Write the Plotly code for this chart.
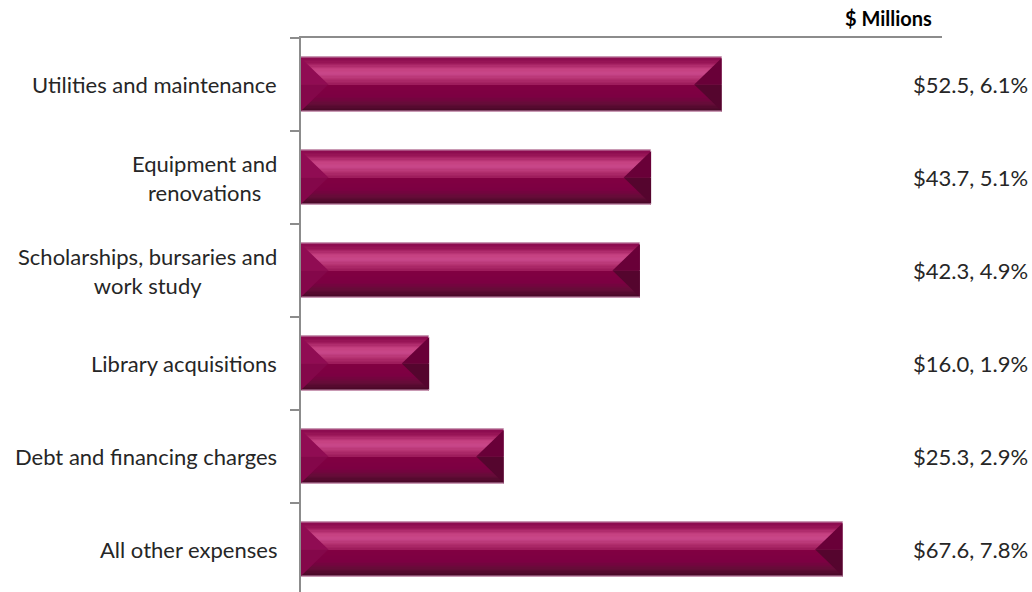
import plotly.graph_objects as go

# ---- data ----
categories = ["Utilities and maintenance", "Equipment and<br>renovations",
              "Scholarships, bursaries and<br>work study", "Library acquisitions",
              "Debt and financing charges", "All other expenses"]
values = [52.5, 43.7, 42.3, 16.0, 25.3, 67.6]
percents = [6.1, 5.1, 4.9, 1.9, 2.9, 7.8]
value_header = "$ Millions"

# ---- style ----
W, H = 1032, 592
ML, MR, MT, MB = 301, 90, 38, 0
XMAX = 80
Y_TOP, Y_BOT = -0.5, 5.457
BAR_H = 0.59
FONT = "Lato, Carlito, Calibri, sans-serif"
TEXT_COL = "#262626"
AXIS_COL = "#8c8c8c"

px_per_x = (W - ML - MR) / XMAX
px_per_y = (H - MT - MB) / (Y_BOT - Y_TOP)
bevel = (BAR_H / 2) * px_per_y / px_per_x

pos = list(range(len(categories)))

# vertical shading stops of the bevelled bar (0 = top edge, 1 = bottom edge)
stops = [
    (0.00, "#c890b0"), (0.025, "#8a0a4e"), (0.10, "#9a1658"),
    (0.22, "#c54080"), (0.30, "#c8478a"), (0.40, "#b3306f"),
    (0.495, "#9c1a5a"), (0.50, "#820042"), (0.72, "#7c0042"),
    (0.85, "#650c38"), (0.965, "#4a0828"), (1.00, "#a87090"),
]


def hex2rgb(h):
    h = h.lstrip("#")
    return [int(h[i:i + 2], 16) for i in (0, 2, 4)]


def color_at(f):
    for (a, ca), (b, cb) in zip(stops[:-1], stops[1:]):
        if a <= f <= b:
            t = 0 if b == a else (f - a) / (b - a)
            c1, c2 = hex2rgb(ca), hex2rgb(cb)
            return "rgb({},{},{})".format(*[round(x + (y - x) * t) for x, y in zip(c1, c2)])
    return stops[-1][1]


N_STRIPES = 40
fig = go.Figure()
for k in range(N_STRIPES):
    f0 = k / N_STRIPES
    fmid = (k + 0.5) / N_STRIPES
    fig.add_trace(go.Bar(
        x=values, y=pos, orientation="h",
        offset=-BAR_H / 2 + f0 * BAR_H, width=(1 - f0) * BAR_H,
        marker=dict(color=color_at(fmid), line=dict(width=0)),
        hoverinfo="skip", showlegend=False))

fig.add_trace(go.Bar(
    x=values, y=pos, orientation="h", width=BAR_H,
    marker=dict(color="rgba(0,0,0,0)", line=dict(color="#c99ab4", width=1)),
    hovertemplate="%{x}<extra></extra>", showlegend=False))

shapes = []
for p, v in zip(pos, values):
    top, mid, bot = p - BAR_H / 2 + 0.01, p, p + BAR_H / 2 - 0.01
    shapes.append(dict(type="path", xref="x", yref="y", layer="above",
                       path=f"M 0 {top} L {bevel} {mid} L 0 {mid} Z",
                       fillcolor="#900c53", line=dict(width=0)))
    shapes.append(dict(type="path", xref="x", yref="y", layer="above",
                       path=f"M 0 {mid} L {bevel} {mid} L 0 {bot} Z",
                       fillcolor="#84074a", line=dict(width=0)))
    shapes.append(dict(type="path", xref="x", yref="y", layer="above",
                       path=f"M {v} {top} L {v - bevel} {mid} L {v} {mid} Z",
                       fillcolor="#690038", line=dict(width=0)))
    shapes.append(dict(type="path", xref="x", yref="y", layer="above",
                       path=f"M {v} {mid} L {v - bevel} {mid} L {v} {bot} Z",
                       fillcolor="#55052e", line=dict(width=0)))

annotations = []
for p, c in zip(pos, categories):
    annotations.append(dict(xref="paper", yref="y", x=0, y=p, xshift=-22,
                            xanchor="right", yanchor="middle", align="center",
                            text=c, showarrow=False,
                            font=dict(family=FONT, size=22, color=TEXT_COL)))
for p, v, pc in zip(pos, values, percents):
    annotations.append(dict(xref="paper", yref="y", x=1, y=p,
                            xshift=(1030 - (W - MR)),
                            xanchor="right", yanchor="middle",
                            text=f"${v:.1f}, {pc:.1f}%", showarrow=False,
                            font=dict(family=FONT, size=22, color=TEXT_COL)))
annotations.append(dict(xref="paper", yref="paper", x=1, y=1, yshift=6, xshift=-8,
                        xanchor="right", yanchor="bottom",
                        text=f"<b>{value_header}</b>", showarrow=False,
                        font=dict(family=FONT, size=20, color="#000000")))

boundaries = [i - 0.5 for i in range(len(categories) + 1)]

fig.update_layout(
    width=W, height=H,
    margin=dict(l=ML, r=MR, t=MT, b=MB, pad=0),
    paper_bgcolor="white", plot_bgcolor="white",
    barmode="overlay", bargap=0,
    shapes=shapes, annotations=annotations,
    xaxis=dict(range=[0, XMAX], side="top", showgrid=False, zeroline=False,
               showticklabels=False, ticks="", showline=True,
               linecolor=AXIS_COL, linewidth=2, fixedrange=True),
    yaxis=dict(range=[Y_BOT, Y_TOP], showgrid=False, zeroline=False,
               tickvals=boundaries, ticktext=[""] * len(boundaries),
               ticks="outside", ticklen=9, tickwidth=2, tickcolor=AXIS_COL,
               showline=True, linecolor=AXIS_COL, linewidth=2, fixedrange=True),
    showlegend=False,
)

fig.write_html("out.html", config={"displayModeBar": False},
               post_script="document.body.style.margin='0';document.body.style.overflow='hidden';")
